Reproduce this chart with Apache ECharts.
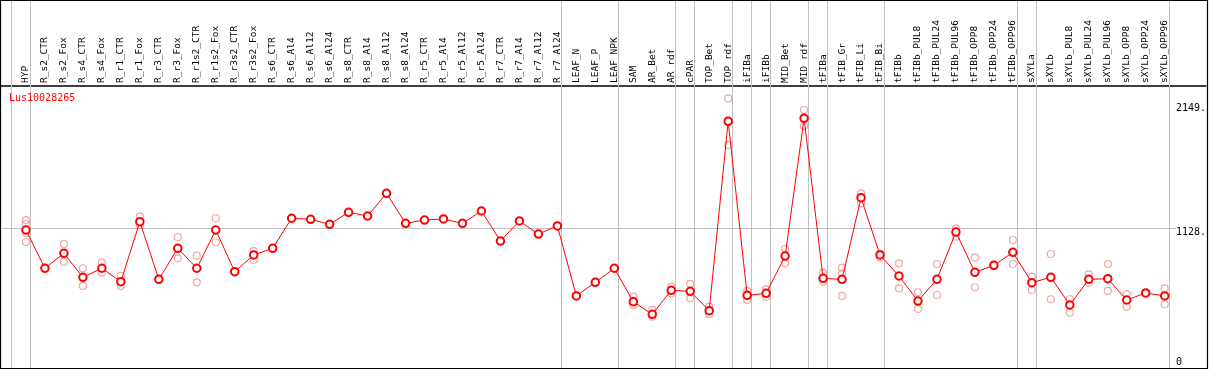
<!DOCTYPE html>
<html><head><meta charset="utf-8">
<script src="https://cdn.jsdelivr.net/npm/echarts@6/dist/echarts.min.js"></script>
<style>html,body{margin:0;padding:0;background:#fff}#c{width:1209px;height:370px}</style>
</head><body><div id="c"></div>
<script>
const title = 'Lus10028265';
const categories = ['HYP','R_s2_CTR','R_s2_Fox','R_s4_CTR','R_s4_Fox','R_r1_CTR','R_r1_Fox','R_r3_CTR','R_r3_Fox','R_r1s2_CTR','R_r1s2_Fox','R_r3s2_CTR','R_r3s2_Fox','R_s6_CTR','R_s6_Al4','R_s6_Al12','R_s6_Al24','R_s8_CTR','R_s8_Al4','R_s8_Al12','R_s8_Al24','R_r5_CTR','R_r5_Al4','R_r5_Al12','R_r5_Al24','R_r7_CTR','R_r7_Al4','R_r7_Al12','R_r7_Al24','LEAF_N','LEAF_P','LEAF_NPK','SAM','AR_Bet','AR_rdf','cPAR','TOP_Bet','TOP_rdf','iFIBa','iFIBb','MID_Bet','MID_rdf','tFIBa','tFIB_Gr','tFIB_Li','tFIB_Bi','tFIBb','tFIBb_PUL8','tFIBb_PUL24','tFIBb_PUL96','tFIBb_OPP8','tFIBb_OPP24','tFIBb_OPP96','sXYLa','sXYLb','sXYLb_PUL8','sXYLb_PUL24','sXYLb_PUL96','sXYLb_OPP8','sXYLb_OPP24','sXYLb_OPP96'];
const meanValues = [1111,789,915,713,789,676,1181,696,957,789,1111,760,901,957,1210,1201,1159,1260,1229,1420,1167,1195,1204,1167,1271,1018,1187,1077,1145,556,671,789,508,401,603,595,432,2026,561,578,892,2051,704,696,1383,901,724,513,696,1094,755,814,923,668,713,480,696,701,522,581,556];
const repA = [1195,795,993,789,836,724,1223,700,1050,895,1210,765,934,null,null,null,null,null,null,null,null,null,null,null,null,null,null,null,null,null,null,null,550,438,634,657,466,2219,598,612,951,2121,752,794,1420,910,831,587,825,1125,881,820,1027,718,909,528,738,825,572,585,620];
const repB = [1010,783,844,640,752,640,1153,692,873,671,1008,755,859,null,null,null,null,null,null,null,null,null,null,null,null,null,null,null,null,null,null,null,480,381,578,536,404,1827,522,550,831,1987,676,747,1336,880,620,446,564,1055,629,808,825,606,528,415,668,598,466,577,486];
const repC = [1086,null,null,null,null,null,null,null,null,null,null,null,null,null,null,null,null,null,null,null,null,null,null,null,null,null,null,null,null,null,null,null,null,null,null,null,null,2032,null,null,null,2051,null,556,null,null,null,null,null,null,null,null,null,null,null,null,null,null,null,null,null];
const repD = [1162,null,null,null,null,null,null,null,null,null,null,null,null,null,null,null,null,null,null,null,null,null,null,null,null,null,null,null,null,null,null,null,null,null,null,null,null,null,null,null,null,null,null,null,null,null,null,null,null,null,null,null,null,null,null,null,null,null,null,null,null];
const separatorAfter = [-1,0,28,31,34,35,37,38,39,41,42,45,52,53,60];
const yTickValues = [0,1128,2149];

const repData = [];
[repA,repB,repC,repD].forEach(arr => arr.forEach((v,i) => { if (v != null) repData.push([i,v]); }));
const meanData = meanValues.map((v,i) => [i,v]);
const xMin = -1.315, xMax = 62.171;
const font = 'DejaVu Sans Mono';

const chart = echarts.init(document.getElementById('c'), null, {renderer:'canvas'});
chart.setOption({
  animation:false,
  backgroundColor:'#fff',
  title:{text:title, left:4, top:88, textStyle:{color:'#ff0000', fontFamily:font, fontSize:10, fontWeight:'normal'}},
  grid:{left:1, right:1, top:0, bottom:2},
  xAxis:{type:'value', position:'top', offset:-86, min:xMin, max:xMax,
    axisLine:{show:true, onZero:false, lineStyle:{color:'#000', width:1.5}},
    axisTick:{show:false}, splitLine:{show:false},
    axisLabel:{customValues:categories.map((c,i)=>i), rotate:-90, margin:3, fontFamily:font, fontSize:9.5, color:'#000',
      formatter:v => categories[Math.round(v)] || ''}},
  yAxis:{type:'value', position:'right', min:-50.5, max:3047.1,
    axisLine:{show:false}, axisTick:{show:false}, splitLine:{show:false},
    axisLabel:{customValues:yTickValues, inside:true, margin:30, align:'left', fontFamily:font, fontSize:10, color:'#000',
      formatter:v => v === 0 ? '0' : (v === 1128 ? '{d|' + v + '.}' : '{e|' + v + '.}'),
      rich:{d:{padding:[9,0,0,0], fontFamily:font, fontSize:10, color:'#000'},
            e:{padding:[4,0,0,0], fontFamily:font, fontSize:10, color:'#000'}}}},
  graphic:[{type:'rect', shape:{x:0.5, y:0.5, width:1207, height:368}, style:{fill:null, stroke:'#000', lineWidth:1.2}, z:100}],
  series:[
    {type:'scatter', data:repData, symbol:'circle', symbolSize:7, z:2,
      itemStyle:{color:'rgba(0,0,0,0)', borderColor:'#ec9090', borderWidth:1.2},
      markLine:{silent:true, symbol:'none', label:{show:false}, z:1,
        lineStyle:{color:'#c0c0c0', width:1, type:'solid'},
        data: separatorAfter.map(k => ({xAxis:k+0.22})).concat([[{coord:[xMin,1128]},{coord:[60.59,1128]}]])}},
    {type:'line', data:meanData, symbol:'emptyCircle', symbolSize:7.5, z:3,
      lineStyle:{color:'#ff0000', width:1}, itemStyle:{color:'#ff0000', borderColor:'#ff0000', borderWidth:1.5}}
  ]
});
</script></body></html>
